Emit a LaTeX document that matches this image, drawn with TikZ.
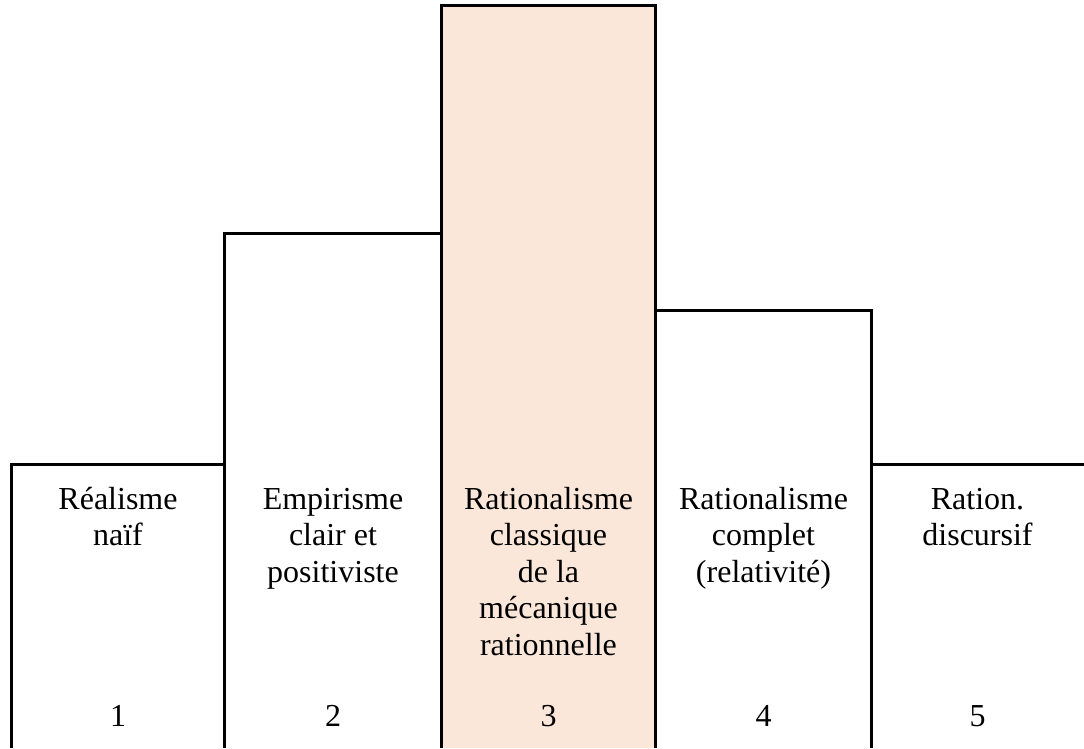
\documentclass[tikz,border=0pt]{standalone}
\usepackage{fontspec}
\setmainfont{Liberation Serif}
\definecolor{peach}{RGB}{251,231,217}
\begin{document}
\begin{tikzpicture}[x=1pt,y=-1pt,
  edge/.style={line width=3pt,line join=miter},
  lbl/.style={font=\fontsize{32}{36.5}\selectfont,align=center,anchor=base,inner sep=0pt},
  num/.style={font=\fontsize{32}{36.5}\selectfont,anchor=base,inner sep=0pt}]
\useasboundingbox (0,0) rectangle (1084,748);
% middle highlighted bar
\fill[peach] (441.5,5) rectangle (655.5,748);
% outlines
\draw[edge] (11,748) -- (11,464) -- (224.5,464) -- (224.5,748);
\draw[edge] (224.5,464) -- (224.5,233.5) -- (441.5,233.5) -- (441.5,748);
\draw[edge] (441.5,233.5) -- (441.5,5) -- (655.5,5) -- (655.5,748);
\draw[edge] (655.5,310.5) -- (871,310.5) -- (871,748);
\draw[edge] (871,464) -- (1084,464);
% labels (anchored at the baseline of the last line)
\node[lbl] (t1) at (118,545.5) {Réalisme\\naïf};
\node[lbl] (t2) at (333,582) {Empirisme\\clair et\\positiviste};
\node[lbl] (t3) at (548.5,655) {Rationalisme\\classique\\de la\\mécanique\\rationnelle};
\node[lbl] (t4) at (763.5,582) {Rationalisme\\complet\\(relativité)};
\node[lbl] (t5) at (977.5,545.5) {Ration.\\discursif};
% numbers
\node[num] (n1) at (118,726) {1};
\node[num] (n2) at (333,726) {2};
\node[num] (n3) at (548.5,726) {3};
\node[num] (n4) at (763.5,726) {4};
\node[num] (n5) at (977.5,726) {5};
\end{tikzpicture}
\end{document}
